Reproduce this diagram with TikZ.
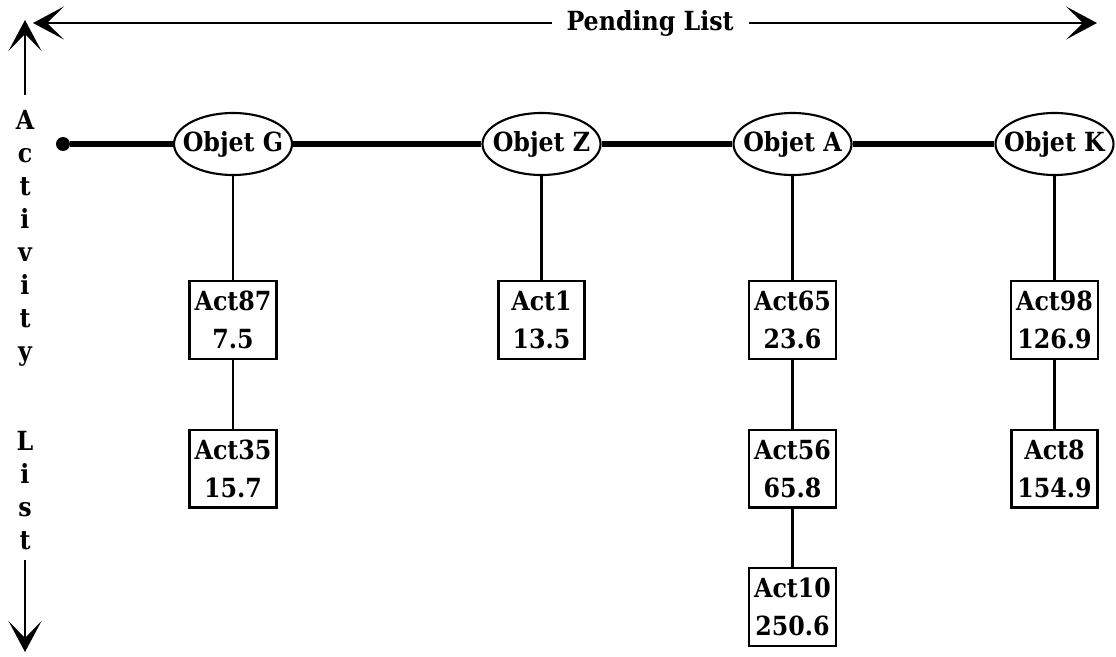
\documentclass[tikz,border=0pt]{standalone}
\usepackage{fontspec}
\setmainfont{DejaVu Serif Condensed}
\usetikzlibrary{arrows.meta, positioning, shapes.geometric}
\newcommand{\objlabel}[1]{\makebox[0pt]{#1}}

\begin{document}
\begin{tikzpicture}[
    font=\fontsize{15}{21.6}\selectfont\bfseries,
    Barb/.tip={Stealth[length=0.62cm, width=0.66cm, inset=0.34cm]},
    obj/.style={draw, ellipse, line width=1.2pt, minimum width=2.36cm, minimum height=1.24cm, inner sep=0pt, fill=white},
    act/.style={draw, line width=1.3pt, align=center, minimum width=1.72cm, minimum height=1.55cm, inner xsep=0.1cm, inner ysep=0pt},
    link/.style={line width=1.3pt},
    chain/.style={line width=3.1pt},
    axis/.style={line width=1.3pt}
]
\useasboundingbox (0,0) rectangle (22.32,-13.14);

% pending list (horizontal)
\coordinate (pendL) at (0.66,-0.46);
\coordinate (pendR) at (21.94,-0.46);
\draw[axis, Barb-Barb] (pendL) -- node[pos=0.58, fill=white, inner xsep=0.3cm] (pendlabel) {Pending List} (pendR);

% activity list (vertical)
\coordinate (actup) at (0.5,-0.4);
\coordinate (actdown) at (0.5,-13.04);
\node[inner sep=0pt, align=center, anchor=north, font=\fontsize{15}{18.8}\selectfont\bfseries] (actlist) at (0.5,-2.2)
    {A\\c\\t\\i\\v\\i\\t\\y\\[32pt]L\\i\\s\\t};
\draw[axis, -Barb, shorten <=0.3cm] (actlist.north) -- (actup);
\draw[axis, -Barb, shorten <=0.2cm] (actlist.south) -- (actdown);

% objects
\node[circle, fill, inner sep=0pt, minimum size=0.28cm] (head) at (1.26,-2.88) {};
\node[obj] (objG) at (4.66,-2.88) {\objlabel{Objet G}};
\node[obj] (objZ) at (10.83,-2.88) {\objlabel{Objet Z}};
\node[obj] (objA) at (15.85,-2.88) {\objlabel{Objet A}};
\node[obj] (objK) at (21.09,-2.88) {\objlabel{Objet K}};
\draw[chain] (head) -- (objG) -- (objZ) -- (objA) -- (objK);

% activities
\node[act, below=2.08cm of objG] (act87) {Act87\\7.5};
\node[act, below=1.38cm of act87] (act35) {Act35\\15.7};
\node[act, below=2.08cm of objZ] (act1) {Act1\\13.5};
\node[act, below=2.08cm of objA] (act65) {Act65\\23.6};
\node[act, below=1.38cm of act65] (act56) {Act56\\65.8};
\node[act, below=1.17cm of act56] (act10) {Act10\\250.6};
\node[act, below=2.08cm of objK] (act98) {Act98\\126.9};
\node[act, below=1.38cm of act98] (act8) {Act8\\154.9};

\draw[link] (objG) -- (act87) -- (act35);
\draw[link] (objZ) -- (act1);
\draw[link] (objA) -- (act65) -- (act56) -- (act10);
\draw[link] (objK) -- (act98) -- (act8);
\end{tikzpicture}
\end{document}
